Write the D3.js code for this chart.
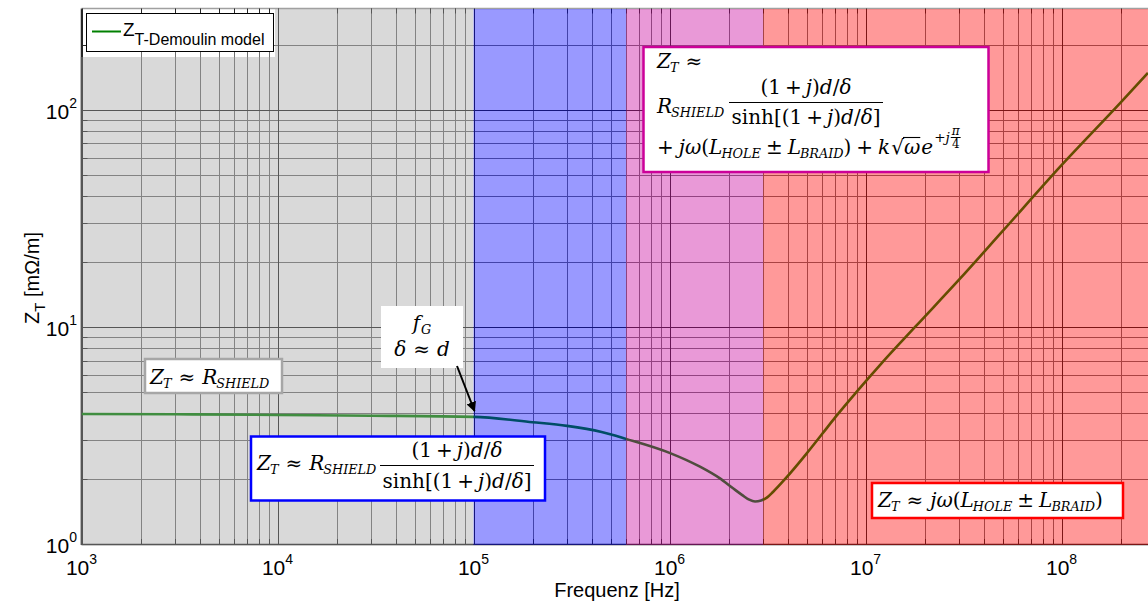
<!DOCTYPE html>
<html><head><meta charset="utf-8">
<script src="https://cdn.jsdelivr.net/npm/d3@7"></script>
<style>body{margin:0;background:#fff}</style>
</head><body>
<svg id="c" width="1148" height="601"></svg>
<script>
// ---------------- data ----------------
const freq = [1e3, 3e3, 1e4, 3e4, 1e5, 2e5, 3e5, 4.5e5, 6e5, 1e6, 1.43e6, 1.8e6, 2.1e6, 2.35e6, 2.55e6, 2.73e6, 2.93e6, 3.15e6, 3.37e6, 3.9e6, 5e6, 6e6, 7e6, 9e6, 1.2e7, 1.8e7, 3e7, 5e7, 1e8, 2e8, 2.76e8];
const zt   = [3.97, 3.96, 3.93, 3.90, 3.85, 3.64, 3.50, 3.28, 3.05, 2.63, 2.27, 2.01, 1.81, 1.68, 1.60, 1.57, 1.586, 1.64, 1.736, 2.0, 2.61, 3.21, 3.83, 5.02, 6.76, 10.05, 16.5, 27.6, 55.6, 108, 148];
const xTickVals = [1e3, 1e4, 1e5, 1e6, 1e7, 1e8];
const xTickExp  = ["3", "4", "5", "6", "7", "8"];
const yTickVals = [1, 10, 100];
const yTickExp  = ["0", "1", "2"];
const regionBounds = [1e3, 1e5, 6e5, 3e6, 2.76e8];
const regionColors = ["#a0a0a0", "#0000ff", "#c8009a", "#ff0000"];
const legendMain = "Z", legendSub = "T-Demoulin model";
const xTitle = "Frequenz [Hz]";
const yTitleMain = "Z", yTitleSub = "T", yTitleRest = " [mΩ/m]";

// ---------------- layout ----------------
const svg = d3.select("#c");
const L = 81.5, R = 1148, T = 8.5, B = 544;
const x = d3.scaleLog().domain([1e3, Math.pow(10, 8.441)]).range([L, R]);
const y = d3.scaleLog().domain([1, Math.pow(10, 2.467)]).range([B, T]);
const SANS = "'Liberation Sans', Arial, Helvetica, sans-serif";
const SERIF = "'DejaVu Serif', 'Liberation Serif', serif";

svg.append("rect").attr("width", 1148).attr("height", 601).attr("fill", "#fff");

const xMinor = [], yMinor = [];
for (let d = 3; d <= 8; d++) for (let m = 2; m <= 9; m++) { const v = m * Math.pow(10, d); if (v <= x.domain()[1]) xMinor.push(v); }
for (let d = 0; d <= 2; d++) for (let m = 2; m <= 9; m++) { const v = m * Math.pow(10, d); if (v <= y.domain()[1]) yMinor.push(v); }

svg.append("defs").append("clipPath").attr("id", "pa").append("rect")
  .attr("x", L).attr("y", T).attr("width", R - L).attr("height", B - T);

const grid = svg.append("g").attr("clip-path", "url(#pa)");
grid.selectAll(".xm").data(xMinor).join("line")
  .attr("x1", d => Math.round(x(d)) + 0.5).attr("x2", d => Math.round(x(d)) + 0.5)
  .attr("y1", T).attr("y2", B).attr("stroke", "#707070").attr("stroke-width", 1);
grid.selectAll(".ym").data(yMinor).join("line")
  .attr("y1", d => Math.round(y(d)) + 0.5).attr("y2", d => Math.round(y(d)) + 0.5)
  .attr("x1", L).attr("x2", R).attr("stroke", "#707070").attr("stroke-width", 1);
grid.selectAll(".xM").data(xTickVals).join("line")
  .attr("x1", d => Math.round(x(d)) + 0.5).attr("x2", d => Math.round(x(d)) + 0.5)
  .attr("y1", T).attr("y2", B).attr("stroke", "#262626").attr("stroke-width", 1);
grid.selectAll(".yM").data(yTickVals).join("line")
  .attr("y1", d => Math.round(y(d)) + 0.5).attr("y2", d => Math.round(y(d)) + 0.5)
  .attr("x1", L).attr("x2", R).attr("stroke", "#262626").attr("stroke-width", 1);

// axes (log axes, ticks inside)
const ax = svg.append("g");
ax.append("line").attr("x1", L).attr("x2", R).attr("y1", B + 0.5).attr("y2", B + 0.5).attr("stroke", "#262626").attr("stroke-width", 1.5);
ax.append("line").attr("x1", L).attr("x2", L).attr("y1", T).attr("y2", B + 1).attr("stroke", "#262626").attr("stroke-width", 1.5);
ax.append("line").attr("x1", L).attr("x2", R).attr("y1", T).attr("y2", T).attr("stroke", "#a0a0a0").attr("stroke-width", 1.5);
ax.selectAll(".bt").data(xMinor.concat(xTickVals)).join("line")
  .attr("x1", d => Math.round(x(d)) + 0.5).attr("x2", d => Math.round(x(d)) + 0.5)
  .attr("y1", B).attr("y2", d => B - (xTickVals.includes(d) ? 8 : 5)).attr("stroke", "#262626");
ax.selectAll(".tt").data(xMinor.concat(xTickVals)).join("line")
  .attr("x1", d => Math.round(x(d)) + 0.5).attr("x2", d => Math.round(x(d)) + 0.5)
  .attr("y1", T).attr("y2", d => T + (xTickVals.includes(d) ? 8 : 5)).attr("stroke", "#262626");
ax.selectAll(".lt").data(yMinor.concat(yTickVals)).join("line")
  .attr("y1", d => Math.round(y(d)) + 0.5).attr("y2", d => Math.round(y(d)) + 0.5)
  .attr("x1", L).attr("x2", d => L + (yTickVals.includes(d) ? 10 : 6)).attr("stroke", "#262626");

// curve
const line = d3.line().x((d, i) => x(freq[i])).y(d => y(d)).curve(d3.curveMonotoneX);
svg.append("path").datum(zt).attr("clip-path", "url(#pa)")
  .attr("d", line).attr("fill", "none").attr("stroke", "#008000").attr("stroke-width", 2.6);

// overlays (semi-transparent frequency regions)
const legW = { x2: 275, y2: 57 };
const ov = svg.append("g");
regionColors.forEach((c, i) => {
  const x0 = i === 0 ? L - 1.5 : x(regionBounds[i]);
  const x1 = Math.min(R, x(regionBounds[i + 1]));
  const p = i === 0
    ? `M${x0},${legW.y2}H${legW.x2}V${T + 0.5}H${x1}V${B + 1}H${x0}Z`
    : `M${x0},${T + 0.5}H${x1}V${B + 1}H${x0}Z`;
  ov.append("path").attr("d", p).attr("fill", c).attr("fill-opacity", 0.4);
});

// legend
const lg = svg.append("g");
lg.append("rect").attr("x", 86.5).attr("y", 13.5).attr("width", 187).attr("height", 38)
  .attr("fill", "#fff").attr("stroke", "#000").attr("stroke-width", 1);
lg.append("line").attr("x1", 92).attr("x2", 121).attr("y1", 31.5).attr("y2", 31.5)
  .attr("stroke", "#008000").attr("stroke-width", 2);
const lt = lg.append("text").attr("x", 123).attr("y", 36).attr("font-family", SANS).attr("font-size", 19);
lt.append("tspan").text(legendMain);
lt.append("tspan").attr("dy", 9).attr("font-size", 16).text(legendSub);

// ---------------- math helper ----------------
function mathRun(parent, x0, y0, segs, size, anchor) {
  const grp = parent.append("g");
  let cx = 0;
  const pos = [];
  segs.forEach(sg => {
    if (sg.gap) { cx += sg.gap; pos.push({ x: cx, w: 0 }); return; }
    if (sg.frac) {
      const fs = size * sg.s;
      const by = (sg.dy || 0) * size;
      const tn = grp.append("text").attr("y", by - fs * 0.22).attr("font-family", SERIF).attr("font-size", fs).attr("font-style", "italic").text(sg.frac[0]);
      const td = grp.append("text").attr("y", by + fs * 0.82).attr("font-family", SERIF).attr("font-size", fs).text(sg.frac[1]);
      const wn = tn.node().getComputedTextLength(), wd = td.node().getComputedTextLength();
      const w = Math.max(wn, wd) + 2;
      tn.attr("x", cx + (w - wn) / 2); td.attr("x", cx + (w - wd) / 2);
      grp.append("line").attr("x1", cx).attr("x2", cx + w).attr("y1", by - 0.5).attr("y2", by - 0.5)
        .attr("stroke", "#000").attr("stroke-width", 1);
      pos.push({ x: cx, w });
      cx += w;
      return;
    }
    const fs = size * (sg.s || 1);
    const el = grp.append("text").attr("x", cx).attr("y", (sg.dy || 0) * size)
      .attr("font-family", SERIF).attr("font-size", fs)
      .attr("font-style", sg.i ? "italic" : "normal").text(sg.t);
    const w = el.node().getComputedTextLength();
    pos.push({ x: cx, w });
    cx += w + (sg.k || 0);
  });
  const shift = anchor === "middle" ? -cx / 2 : 0;
  grp.attr("transform", `translate(${x0 + shift},${y0})`);
  return { width: cx, g: grp, pos };
}
const I = (t, k) => ({ t, i: true, k: k || 0 });
const N = (t, k) => ({ t, k: k || 0 });
const Sub = t => ({ t, i: true, s: 0.64, dy: 0.22 });
const Gap = g => ({ gap: g });

const ZT = [I("Z", -1), Sub("T")];
const RS = [I("R", -1), Sub("SHIELD")];
const numer = [N("(1"), Gap(4), N("+"), Gap(4), I("j"), N(")"), I("d"), N("/"), I("δ")];
const denom = [N("sinh[(1"), Gap(4), N("+"), Gap(4), I("j"), N(")"), I("d"), N("/"), I("δ"), N("]")];
const inductive = [I("j"), I("ω"), N("("), I("L", -1), Sub("HOLE"), Gap(5), N("±"), Gap(5), I("L", -1), Sub("BRAID"), N(")")];

function box(x0, y0, x1, y1, stroke, sw) {
  return svg.append("rect").attr("x", x0).attr("y", y0).attr("width", x1 - x0).attr("height", y1 - y0)
    .attr("fill", "#fff").attr("stroke", stroke).attr("stroke-width", sw);
}
function frac(cx, nb, barY, den, x0, x1, size) {
  mathRun(svg, cx, nb, numer, size, "middle");
  svg.append("line").attr("x1", x0).attr("x2", x1).attr("y1", barY).attr("y2", barY).attr("stroke", "#000").attr("stroke-width", 1.2);
  mathRun(svg, cx, den, denom, size, "middle");
}
const FS = 20;

// Box 1: Z_T ≈ R_SHIELD
box(145, 359, 282, 393, "#a6a6a6", 2.5);
mathRun(svg, 150, 384, [...ZT, Gap(7), N("≈"), Gap(7), ...RS], FS);

// f_G box
svg.append("rect").attr("x", 381).attr("y", 306).attr("width", 82).attr("height", 62).attr("fill", "#fff");
mathRun(svg, 422, 330, [I("f", 1), Sub("G")], FS, "middle");
mathRun(svg, 422, 356, [I("δ"), Gap(7), N("≈"), Gap(7), I("d")], FS, "middle");
svg.append("defs").append("marker").attr("id", "ah").attr("viewBox", "0 0 10 10").attr("refX", 9).attr("refY", 5)
  .attr("markerWidth", 5).attr("markerHeight", 5).attr("orient", "auto")
  .append("path").attr("d", "M0,0L10,5L0,10Z").attr("fill", "#000");
svg.append("line").attr("x1", 457).attr("y1", 366).attr("x2", 474.5).attr("y2", 411)
  .attr("stroke", "#000").attr("stroke-width", 2).attr("marker-end", "url(#ah)");

// Blue box
box(251, 436.5, 545, 500.5, "#0000ff", 2.5);
mathRun(svg, 257, 470, [...ZT, Gap(7), N("≈"), Gap(7), ...RS], FS);
frac(457, 457, 465.5, 488, 380, 534, FS);

// Magenta box
box(643.5, 47, 988.5, 172, "#cc0099", 2.5);
mathRun(svg, 657, 68, [...ZT, Gap(7), N("≈")], FS);
mathRun(svg, 657, 113, RS, FS);
frac(806, 94, 102.5, 124, 729, 883, FS);
const l3 = mathRun(svg, 657, 154, [N("+"), Gap(5), ...inductive, Gap(5), N("+"), Gap(5), I("k", 1), N("√"),
  I("ω", 1), I("e", 1), { t: "+", s: 0.68, dy: -0.6 }, { t: "j", i: true, s: 0.68, dy: -0.6, k: 1 },
  { frac: ["π", "4"], s: 0.6, dy: -0.8 }], FS);
{
  const sq = l3.pos[l3.pos.length - 6], om = l3.pos[l3.pos.length - 5];
  l3.g.append("line").attr("x1", sq.x + sq.w - 1).attr("x2", om.x + om.w).attr("y1", -16.5).attr("y2", -16.5)
    .attr("stroke", "#000").attr("stroke-width", 1.1);
}

// Red box
box(872, 483, 1123, 518, "#ff0000", 2.5);
mathRun(svg, 878, 507, [...ZT, Gap(7), N("≈"), Gap(7), ...inductive], FS);

// ---------------- tick labels & titles ----------------
const xl = svg.append("g");
xTickVals.forEach((v, i) => {
  const t = xl.append("text").attr("x", x(v)).attr("y", 575).attr("text-anchor", "middle")
    .attr("font-family", SANS).attr("font-size", 21).attr("fill", "#000");
  t.append("tspan").text("10");
  t.append("tspan").attr("dy", -11).attr("font-size", 14).text(xTickExp[i]);
});
yTickVals.forEach((v, i) => {
  const t = xl.append("text").attr("x", 77).attr("y", y(v) + 9).attr("text-anchor", "end")
    .attr("font-family", SANS).attr("font-size", 21).attr("fill", "#000");
  t.append("tspan").text("10");
  t.append("tspan").attr("dy", -11).attr("font-size", 14).text(yTickExp[i]);
});
svg.append("text").attr("x", 617).attr("y", 597).attr("text-anchor", "middle")
  .attr("font-family", SANS).attr("font-size", 20).text(xTitle);
const yt = svg.append("text").attr("transform", "translate(39,278) rotate(-90)").attr("text-anchor", "middle")
  .attr("font-family", SANS).attr("font-size", 20);
yt.append("tspan").text(yTitleMain);
yt.append("tspan").attr("dy", 6).attr("font-size", 15).text(yTitleSub);
yt.append("tspan").attr("dy", -6).text(yTitleRest);
</script>
</body></html>
